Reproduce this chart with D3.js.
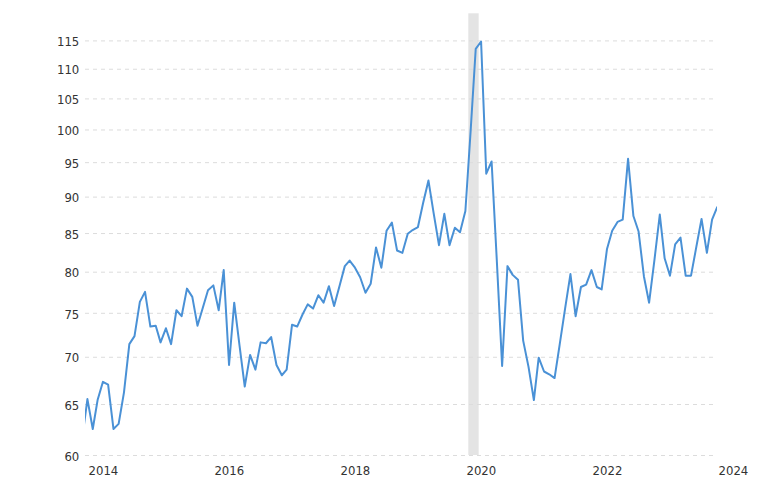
<!DOCTYPE html>
<html><head><meta charset="utf-8">
<script src="https://cdn.jsdelivr.net/npm/d3@7"></script>
<style>html,body{margin:0;padding:0;background:#fff}</style>
</head><body><svg id="c" width="760" height="479"></svg>
<script>
// Monthly values, Dec 2013 .. Jan 2024 (first point sits just left of the plot and is clipped)
const startYear = 2013, startMonth = 11; // December 2013 (0-based month)
const values2013 = [61.5];
const values2014 = [65.5, 62.5, 65.4, 67.3, 67.0, 62.5, 63.0, 66.2, 71.4, 72.3, 76.3, 77.5];
const values2015 = [73.4, 73.5, 71.6, 73.2, 71.4, 75.3, 74.6, 77.9, 76.9, 73.5, 75.6, 77.7];
const values2016 = [78.3, 75.3, 80.2, 69.1, 76.2, 71.2, 66.8, 70.2, 68.6, 71.6, 71.5, 72.2];
const values2017 = [69.1, 68.0, 68.6, 73.6, 73.4, 74.8, 76.0, 75.5, 77.1, 76.2, 78.2, 75.8];
const values2018 = [78.2, 80.7, 81.4, 80.5, 79.3, 77.4, 78.5, 83.1, 80.5, 85.3, 86.4, 82.7];
const values2019 = [82.4, 84.9, 85.4, 85.8, 89.1, 92.3, 87.7, 83.4, 87.6, 83.4, 85.7, 85.1];
const values2020 = [88.0, 100.0, 113.5, 114.8, 93.3, 95.1, 81.5, 69.0, 80.7, 79.6, 79.0, 71.8];
const values2021 = [68.9, 65.4, 69.9, 68.4, 68.1, 67.7, 71.4, 75.5, 79.7, 74.6, 78.1, 78.4];
const values2022 = [80.2, 78.1, 77.8, 82.9, 85.3, 86.5, 86.8, 95.5, 87.3, 85.2, 79.4, 76.2];
const values2023 = [81.5, 87.5, 81.7, 79.5, 83.5, 84.4, 79.5, 79.5, 83.2, 86.9, 82.4, 86.8];
const values2024 = [88.6];

const yTicks = [60, 65, 70, 75, 80, 85, 90, 95, 100, 105, 110, 115];
const xTickYears = [2014, 2016, 2018, 2020, 2022, 2024];
const xDomain = ["2014-01-01", "2024-01-01"];
const yDomain = [60, 120];
const recession = ["2020-02-01", "2020-04-01"];

const allValues = [].concat(values2013, values2014, values2015, values2016, values2017,
  values2018, values2019, values2020, values2021, values2022, values2023, values2024);
const data = allValues.map((v, i) => ({date: new Date(startYear, startMonth + i, 15), value: v}));

const W = 760, H = 479;
const pLeft = 85, pRight = 715, pTop = 13.3, pBottom = 455;
const FONT = "'DejaVu Sans Condensed', 'DejaVu Sans', Verdana, sans-serif";

const parse = d3.timeParse("%Y-%m-%d");
const x = d3.scaleTime().domain(xDomain.map(parse)).range([pLeft, pRight]);
const y = d3.scaleLog().domain(yDomain).range([pBottom, pTop]);

const svg = d3.select("#c");
svg.append("rect").attr("width", W).attr("height", H).attr("fill", "#fff");

svg.append("defs").append("clipPath").attr("id", "clip")
  .append("rect").attr("x", pLeft).attr("y", 0).attr("width", pRight - pLeft + 2).attr("height", H);

// recession band
svg.append("rect")
  .attr("x", x(parse(recession[0])))
  .attr("width", x(parse(recession[1])) - x(parse(recession[0])))
  .attr("y", pTop).attr("height", pBottom - pTop)
  .attr("fill", "#e4e4e4");

// grid
const grid = svg.append("g").attr("transform", `translate(${pLeft},0)`)
  .call(d3.axisLeft(y).tickValues(yTicks).tickSize(-(pRight - pLeft)).tickFormat(""));
grid.select(".domain").remove();
grid.selectAll("line").attr("stroke", "#dcdcdc").attr("stroke-width", 1).attr("stroke-dasharray", "4,4");

// y axis labels
const ya = svg.append("g").attr("transform", `translate(${pLeft},0)`)
  .call(d3.axisLeft(y).tickValues(yTicks).tickSize(0).tickPadding(5.7).tickFormat(d3.format("d")));
ya.select(".domain").remove();
ya.selectAll("text").attr("font-family", FONT).attr("font-size", 13).attr("fill", "#333").attr("dy", "0.4em");

// x axis labels
const xa = svg.append("g").attr("transform", `translate(0,${pBottom})`)
  .call(d3.axisBottom(x).tickValues(xTickYears.map(yr => new Date(yr, 0, 1))).tickSize(0).tickFormat(d3.timeFormat("%Y")));
xa.select(".domain").remove();
xa.selectAll("text").attr("font-family", FONT).attr("font-size", 13).attr("fill", "#333")
  .attr("text-anchor", "start").attr("dx", 3).attr("y", 20).attr("dy", 0);

// line
svg.append("path").datum(data)
  .attr("clip-path", "url(#clip)")
  .attr("fill", "none").attr("stroke", "#4a91d6").attr("stroke-width", 2)
  .attr("stroke-linejoin", "round")
  .attr("d", d3.line().x(d => x(d.date)).y(d => y(d.value)));
</script></body></html>
